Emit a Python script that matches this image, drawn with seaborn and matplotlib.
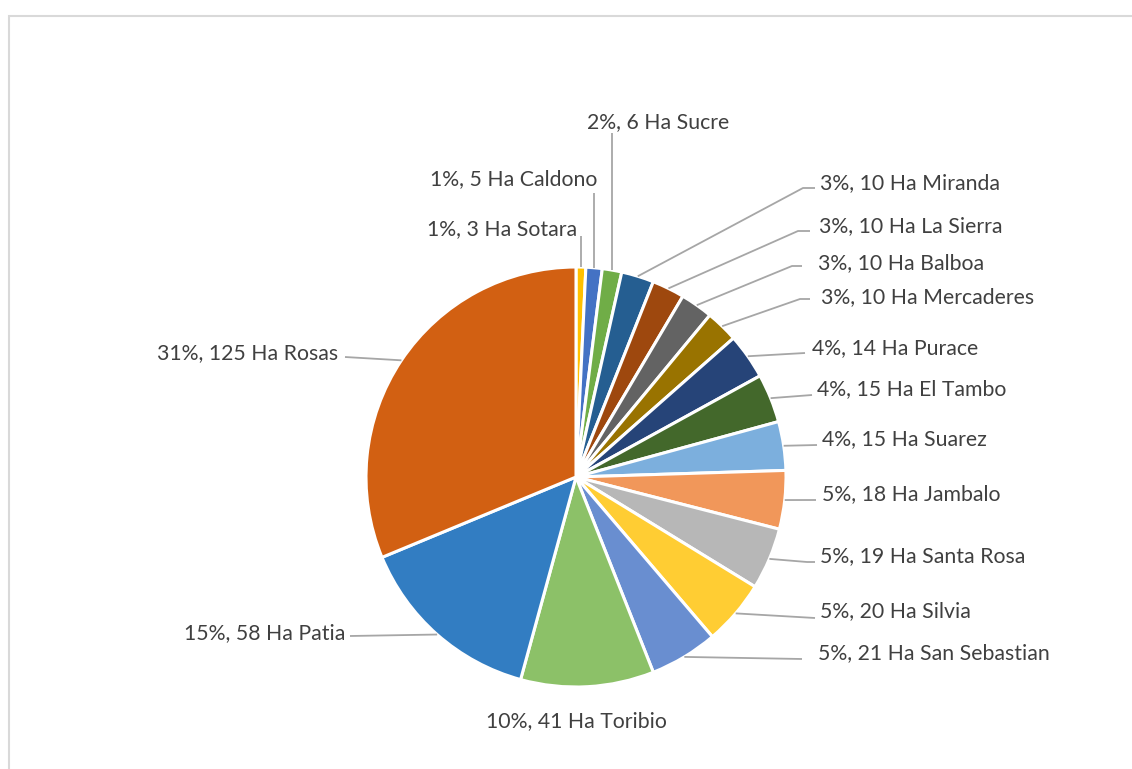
import numpy as np
import matplotlib
matplotlib.use("Agg")
import matplotlib.pyplot as plt
from matplotlib.patches import Rectangle
import seaborn as sns

# ---- data ----
municipios = ["Sotara", "Caldono", "Sucre", "Miranda", "La Sierra", "Balboa",
              "Mercaderes", "Purace", "El Tambo", "Suarez", "Jambalo",
              "Santa Rosa", "Silvia", "San Sebastian", "Toribio", "Patia", "Rosas"]
hectareas = [3, 5, 6, 10, 10, 10, 10, 14, 15, 15, 18, 19, 20, 21, 41, 58, 125]
colores = ["#FFC000", "#4472C4", "#70AD47", "#255E91", "#9E480E", "#636363",
           "#997300", "#264478", "#43682B", "#7CAFDD", "#F1975A", "#B7B7B7",
           "#FFCD33", "#698ED0", "#8CC168", "#327DC2", "#D26012"]

# ---- layout (image pixel coords, y downward) ----
W, H = 1132, 769
CX, CY, R = 576, 477, 210
# label text anchor: (x, cap-centre y, ha)
label_pos = [
    (577, 228, "right"), (597, 178, "right"), (658, 121, "center"),
    (820, 182, "left"), (819, 225, "left"), (818, 262, "left"), (821, 296, "left"),
    (812, 347, "left"), (817, 388, "left"), (822, 438, "left"), (822, 493, "left"),
    (820, 555, "left"), (820, 610, "left"), (818, 652, "left"),
    (576, 720, "center"), (345, 632, "right"), (338, 352, "right"),
]
# leader paths after the slice point: ("v", y_end) vertical, list of points, or None
leaders = [
    ("v", 236), ("v", 193), ("v", 133),
    [(803, 188), (815, 188)], [(798, 231), (810, 231)],
    [(792, 266), (802, 266)], [(800, 299), (810, 299)],
    [(805, 353)], [(812, 395)], [(817, 445)], [(816, 500)],
    [(807, 562), (815, 562)], [(815, 618)], [(802, 659)],
    None, [(350, 636)], [(345, 357)],
]

sns.set_theme(style="white")
plt.rcParams["font.family"] = ["Lato", "DejaVu Sans"]

fig = plt.figure(figsize=(W / 100, H / 100), dpi=100)
ax = fig.add_axes([0, 0, 1, 1])

# chart border
ax.add_patch(Rectangle((8.5, -10), W + 20, H - 15.5 + 10, fill=False,
                       edgecolor="#D9D9D9", linewidth=1.5, zorder=0))

wedges, _ = ax.pie(hectareas, colors=colores, startangle=90, counterclock=False,
                   center=(CX, H - CY), radius=R,
                   wedgeprops=dict(edgecolor="white", linewidth=2.2),
                   frame=True)
ax.set_xlim(0, W)
ax.set_ylim(0, H)
ax.set_aspect("equal")
ax.axis("off")

total = sum(hectareas)
cum = np.cumsum([0] + hectareas[:-1])
text_color = "#404040"
line_color = "#A6A6A6"
for i, (name, v) in enumerate(zip(municipios, hectareas)):
    mid = (cum[i] + v / 2) / total * 360.0
    ang = np.deg2rad(90 - mid)
    sx = CX + R * np.cos(ang)
    sy = CY - R * np.sin(ang)
    ld = leaders[i]
    if ld is not None:
        if isinstance(ld, tuple) and ld[0] == "v":
            pts = [(sx, sy), (sx, ld[1])]
        else:
            pts = [(sx, sy)] + list(ld)
        xs = [p[0] for p in pts]
        ys = [H - p[1] for p in pts]
        ax.plot(xs, ys, color=line_color, lw=1.3, solid_capstyle="butt", zorder=3)
    pct = int(np.floor(v * 100 / total + 0.5))
    txt = f"{pct}%, {v} Ha {name}"
    tx, ty, ha = label_pos[i]
    ax.text(tx, H - (ty + 7.5), txt, ha=ha, va="baseline", fontsize=15.3,
            color=text_color, zorder=4)

fig.savefig("out.png", dpi=100, facecolor="white")
